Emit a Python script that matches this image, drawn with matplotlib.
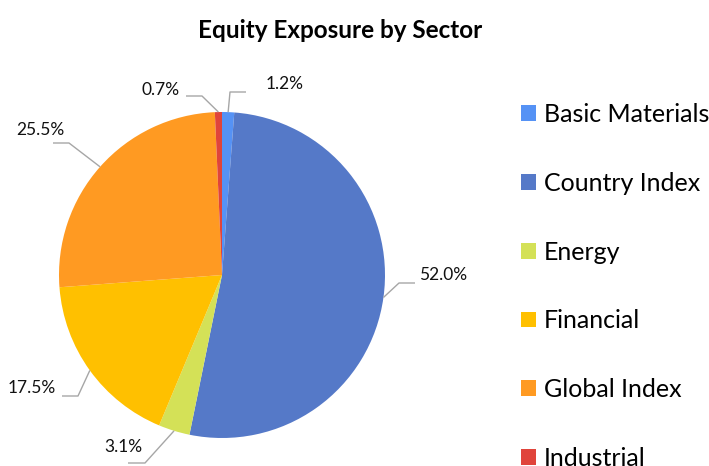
import matplotlib
matplotlib.use('Agg')
import matplotlib.pyplot as plt
from matplotlib.patches import Patch
import numpy as np

# Data
sectors = ['Basic Materials', 'Country Index', 'Energy', 'Financial', 'Global Index', 'Industrial']
shares = [1.2, 52.0, 3.1, 17.5, 25.5, 0.7]
colors = ['#5592F5', '#5579C8', '#D4E157', '#FFC000', '#FF9A22', '#E0443B']

# Leader-line elbows, line ends and label centres (pixels in the figure)
elbows = [(230, 92), (399, 283), (145, 463), (78, 396), (69, 143), (202, 96)]
line_ends = [(246, 92), (415, 283), (128, 463), (62, 396), (53, 143), (186, 96)]
text_pos = [(285, 84), (443, 275), (123, 447), (32, 388), (40, 130), (161, 90)]

plt.rcParams['font.family'] = ['Lato', 'DejaVu Sans']

W, H = 709, 466
cx, cy, r = 222, 275, 163
fig = plt.figure(figsize=(W / 100, H / 100), dpi=100)
ax = fig.add_axes([(cx - r) / W, (H - cy - r) / H, 2 * r / W, 2 * r / H])
ax.axis('off')

wedges, _ = ax.pie(shares, colors=colors, startangle=90, counterclock=False,
                   radius=1, center=(0, 0), wedgeprops=dict(linewidth=0))
ax.set_xlim(-1, 1)
ax.set_ylim(-1, 1)


def to_data(p):
    return ((p[0] - cx) / r, (cy - p[1]) / r)


for w, val, el, le, tp in zip(wedges, shares, elbows, line_ends, text_pos):
    ang = np.deg2rad((w.theta1 + w.theta2) / 2)
    start = (np.cos(ang), np.sin(ang))
    e = to_data(el)
    n = to_data(le)
    ax.plot([start[0], e[0], n[0]], [start[1], e[1], n[1]], color='#A6A6A6',
            lw=1, clip_on=False, solid_capstyle='butt')
    t = to_data(tp)
    ax.text(t[0], t[1], f'{val:.1f}%', ha='center', va='center', fontsize=12.5,
            color='#111111', clip_on=False)

fig.text(340 / W, 1 - 30 / H, 'Equity Exposure by Sector', ha='center', va='center',
         fontsize=17.5, fontweight='bold', color='black')

handles = [Patch(facecolor=c, edgecolor='none') for c in colors]
fig.legend(handles, sectors, loc='upper left', bbox_to_anchor=(521 / W, 1 - 103 / H),
           frameon=False, fontsize=18, handlelength=0.6, handleheight=0.6,
           handletextpad=0.3, labelspacing=1.83, borderaxespad=0, borderpad=0)

fig.savefig('out.png', dpi=100, facecolor='white')
